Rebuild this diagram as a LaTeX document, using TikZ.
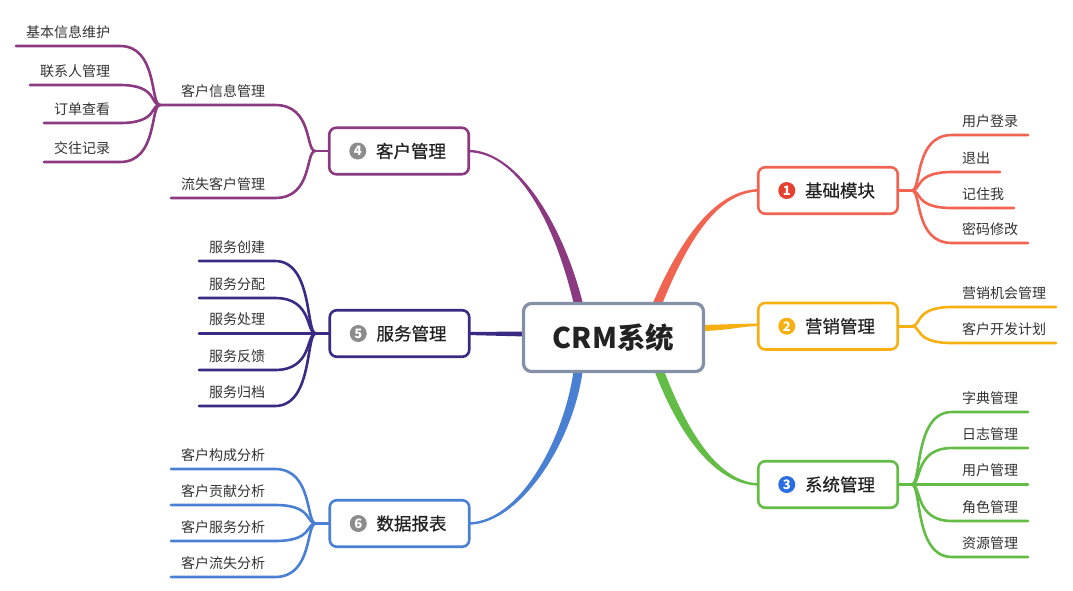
\documentclass[tikz,border=0pt]{standalone}
\usepackage{fontspec}
\setmainfont{Noto Sans CJK SC}
\newfontfamily\cjkm[FakeBold=0.5]{Noto Sans CJK SC}
\usetikzlibrary{calc}
\pgfdeclarelayer{bg}
\pgfsetlayers{bg,main}
\definecolor{cred}{RGB}{242,100,82}
\definecolor{credicon}{RGB}{232,64,47}
\definecolor{corange}{RGB}{246,176,17}
\definecolor{cgreen}{RGB}{98,188,70}
\definecolor{cblueicon}{RGB}{43,109,229}
\definecolor{cpurple}{RGB}{139,58,130}
\definecolor{cviolet}{RGB}{59,42,132}
\definecolor{cblue}{RGB}{74,128,211}
\definecolor{icongray}{RGB}{140,140,140}
\definecolor{hubgray}{RGB}{131,144,165}
\definecolor{darktext}{RGB}{34,34,34}
\definecolor{leafgray}{RGB}{51,51,51}
\tikzset{
  leaf/.style={inner xsep=10pt, inner ysep=9pt, text depth=0pt, outer sep=0pt,
    font=\fontsize{14}{14}\selectfont, text=leafgray},
  leafR/.style={leaf, anchor=south west},
  leafL/.style={leaf, anchor=south east},
  sub/.style={draw=#1, line width=2.6pt, line cap=round},
  branch/.style={draw=#1, line width=2.6pt, rounded corners=7pt, fill=white,
    minimum width=139.5pt, minimum height=46.5pt, inner sep=0pt, outer sep=0pt,
    font=\cjkm\fontsize{17.5}{17.5}\selectfont, text=darktext},
  icon/.style={circle, fill=#1, minimum size=17pt, inner sep=0pt, outer sep=0pt,
    text=white, font=\bfseries\fontsize{13}{13}\selectfont},
  hub/.style={draw=hubgray, line width=3.2pt, rounded corners=8pt, fill=white,
    minimum width=180pt, minimum height=68pt, inner sep=0pt, outer sep=0pt,
    font=\bfseries\fontsize{28.5}{28.5}\selectfont, text=darktext},
}
\begin{document}
\begin{tikzpicture}[x=1pt,y=-1pt]
\useasboundingbox (0,0) rectangle (1073,590);

% hub and branches
\node[hub] (c) at (613.5,337.5) {CRM系统};
\node[branch=cred]    (b1) at (828,190.5) {\hspace*{24pt}基础模块};
\node[branch=corange] (b2) at (828,326.2) {\hspace*{24pt}营销管理};
\node[branch=cgreen]  (b3) at (828,484.5) {\hspace*{24pt}系统管理};
\node[branch=cpurple] (b4) at (399,151)   {\hspace*{24pt}客户管理};
\node[branch=cviolet] (b5) at (399.5,333.5) {\hspace*{24pt}服务管理};
\node[branch=cblue]   (b6) at (399.5,523.5) {\hspace*{24pt}数据报表};
\node[icon=credicon]  (i1) at ($(b1.west)+(28.5,0)$) {1};
\node[icon=corange]   (i2) at ($(b2.west)+(28.5,0)$) {2};
\node[icon=cblueicon] (i3) at ($(b3.west)+(28.5,0)$) {3};
\node[icon=icongray]  (i4) at ($(b4.west)+(28.5,0)$) {4};
\node[icon=icongray]  (i5) at ($(b5.west)+(28.5,0)$) {5};
\node[icon=icongray]  (i6) at ($(b6.west)+(28.5,0)$) {6};

% fork points
\coordinate (f1) at ($(b1.east)+(14,0)$);
\coordinate (f2) at ($(b2.east)+(14,0)$);
\coordinate (f3) at ($(b3.east)+(14,0)$);
\coordinate (f4) at ($(b4.west)+(-14,0)$);
\coordinate (f5) at ($(b5.west)+(-14,0)$);
\coordinate (f6) at ($(b6.west)+(-14,0)$);

% leaves right
\node[leafR] (l11) at (952,135) {用户登录};
\node[leafR] (l12) at (952,172) {退出};
\node[leafR] (l13) at (952,208) {记住我};
\node[leafR] (l14) at (952,243) {密码修改};
\node[leafR] (l21) at (952,307) {营销机会管理};
\node[leafR] (l22) at (952,343) {客户开发计划};
\node[leafR] (l31) at (952,412) {字典管理};
\node[leafR] (l32) at (952,448) {日志管理};
\node[leafR] (l33) at (952,484.5) {用户管理};
\node[leafR] (l34) at (952,521) {角色管理};
\node[leafR] (l35) at (952,557) {资源管理};
% leaves left
\node[leafL] (k1) at (275,105) {客户信息管理};
\node[leafL] (k2) at (275,198) {流失客户管理};
\coordinate (sf4) at (160,105);
\node[leafL] (k11) at (120,46) {基本信息维护};
\node[leafL] (k12) at (120,85) {联系人管理};
\node[leafL] (k13) at (120,123) {订单查看};
\node[leafL] (k14) at (120,162) {交往记录};
\node[leafL] (l51) at (275,261) {服务创建};
\node[leafL] (l52) at (275,298) {服务分配};
\node[leafL] (l53) at (275,333.5) {服务处理};
\node[leafL] (l54) at (275,370) {服务反馈};
\node[leafL] (l55) at (275,406) {服务归档};
\node[leafL] (l61) at (275,469) {客户构成分析};
\node[leafL] (l62) at (275,505) {客户贡献分析};
\node[leafL] (l63) at (275,541) {客户服务分析};
\node[leafL] (l64) at (275,577) {客户流失分析};

\begin{pgfonlayer}{bg}
\fill[white] (0,0) rectangle (1073,590);
% tapered main connectors
\fill[cred] ($(c.north)+(37.3,4.3)$) .. controls +(26.2,-61.8) and +(-48,0) .. ($(b1.west)+(2,-1.5)$)
  -- ($(b1.west)+(2,1)$) .. controls +(-46,0) and +(24.8,-62.2) .. ($(c.north)+(45.7,7.7)$) -- cycle;
\fill[cpurple] ($(c.north)+(-29.4,5)$) .. controls +(-18.1,-77.5) and +(52,0) .. ($(b4.east)+(-1,-1.2)$)
  -- ($(b4.east)+(-1,1.2)$) .. controls +(54,0) and +(-17.3,-77.5) .. ($(c.north)+(-38.2,7)$) -- cycle;
\fill[cgreen] ($(c.south)+(48.1,-7.1)$) .. controls +(27.4,73.6) and +(-39,0) .. ($(b3.west)+(2,-1.2)$)
  -- ($(b3.west)+(2,1.2)$) .. controls +(-41,0) and +(27.8,74.4) .. ($(c.south)+(39.7,-3.9)$) -- cycle;
\fill[cblue] ($(c.south)+(-30.2,-5)$) .. controls +(-8.8,75.5) and +(51.5,0) .. ($(b6.east)+(-1,1.2)$)
  -- ($(b6.east)+(-1,-1.2)$) .. controls +(51.5,0) and +(-8.8,72.5) .. ($(c.south)+(-39.2,-6)$) -- cycle;
\fill[corange] ($(c.east)+(-5.5,-12.5)$) .. controls +(30,-0.5) and +(-20,0) .. ($(b2.west)+(2,-2.6)$)
  -- ($(b2.west)+(2,-0.2)$) .. controls +(-20,0) and +(30,0) .. ($(c.east)+(-5.5,-6.5)$) -- cycle;
\fill[cviolet] ($(c.west)+(2.5,-6)$) -- ($(b5.east)+(-2.5,-1.5)$) -- ($(b5.east)+(-2.5,1.5)$)
  -- ($(c.west)+(2.5,-1)$) -- cycle;

% stubs
\draw[sub=cred] (b1.east) -- (f1);
\draw[sub=corange] (b2.east) -- (f2);
\draw[sub=cgreen] (b3.east) -- (f3);
\draw[sub=cpurple] (b4.west) -- (f4);
\draw[sub=cviolet] (b5.west) -- (f5);
\draw[sub=cblue] (b6.west) -- (f6);

% right leaves
\foreach \l in {l11,l12,l13,l14}
  \draw[sub=cred] (f1) .. controls +(10,0) and +(-38,0) .. (\l.south west) -- (\l.south east);
\foreach \l in {l21,l22}
  \draw[sub=corange] (f2) .. controls +(10,0) and +(-38,0) .. (\l.south west) -- (\l.south east);
\foreach \l in {l31,l32,l33,l34,l35}
  \draw[sub=cgreen] (f3) .. controls +(10,0) and +(-38,0) .. (\l.south west) -- (\l.south east);
% left leaves
\draw[sub=cpurple] (f4) .. controls +(-10,0) and +(38,0) .. (k1.south east) -- (k1.south west) -- (sf4);
\draw[sub=cpurple] (f4) .. controls +(-10,0) and +(38,0) .. (k2.south east) -- (k2.south west);
\foreach \l in {k11,k12,k13,k14}
  \draw[sub=cpurple] (sf4) .. controls +(-10,0) and +(38,0) .. (\l.south east) -- (\l.south west);
\foreach \l in {l51,l52,l53,l54,l55}
  \draw[sub=cviolet] (f5) .. controls +(-10,0) and +(38,0) .. (\l.south east) -- (\l.south west);
\foreach \l in {l61,l62,l63,l64}
  \draw[sub=cblue] (f6) .. controls +(-10,0) and +(38,0) .. (\l.south east) -- (\l.south west);
\end{pgfonlayer}
\end{tikzpicture}
\end{document}
